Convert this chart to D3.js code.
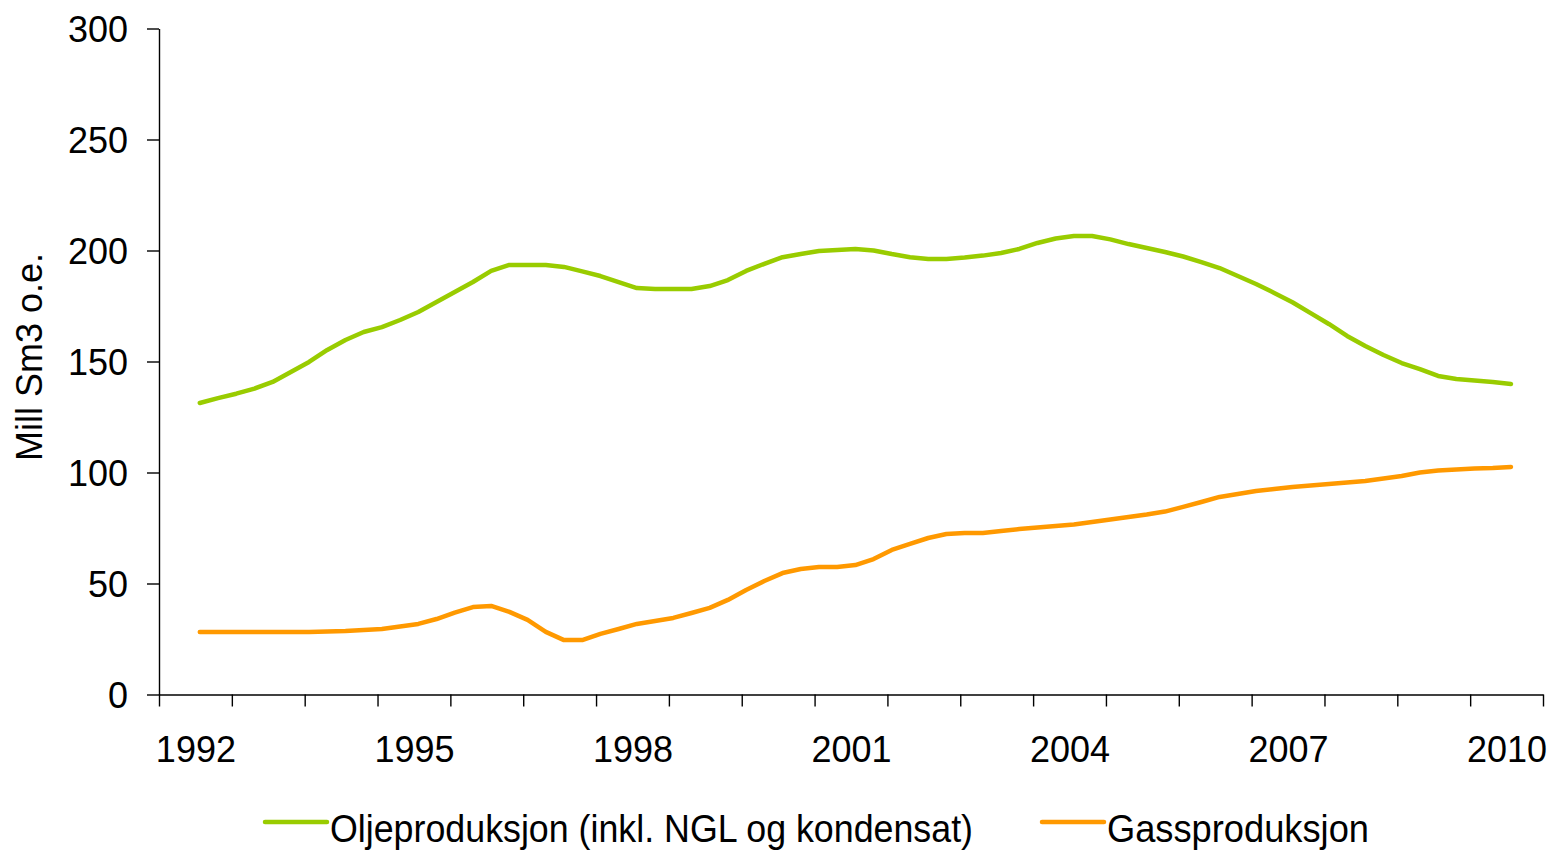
<!DOCTYPE html>
<html>
<head>
<meta charset="utf-8">
<script src="https://cdn.jsdelivr.net/npm/d3@7"></script>
<style>
  body { margin: 0; background: #fff; }
  svg text { font-family: Arial, "Liberation Sans", sans-serif; fill: #000; }
</style>
</head>
<body>
<div id="chart"></div>
<script>
// quarterly values, Mill Sm3 o.e.
const firstPeriod = 1992.56;
const step = 0.25;

const oil = [
    131.3, 133.5, 135.5, 137.8, 140.8, 145.3, 149.8, 155.2, 159.7, 163.3,
    165.5, 168.7, 172.3, 176.8, 181.3, 185.8, 190.8, 193.5, 193.5, 193.5,
    192.6, 190.6, 188.5, 185.8, 183.1, 182.7, 182.7, 182.7, 184.0, 186.7,
    190.8, 194.0, 197.0, 198.4, 199.8, 200.2, 200.7, 200.0, 198.4, 197.0,
    196.2, 196.2, 196.8, 197.7, 198.9, 200.7, 203.4, 205.4, 206.5, 206.5,
    205.0, 202.9, 201.1, 199.3, 197.3, 194.8, 192.1, 188.5, 184.9, 180.9,
    176.7, 171.8, 166.9, 161.5, 157.0, 152.9, 149.3, 146.6, 143.5, 142.1,
    141.4, 140.8, 139.9
];

const gas = [
    28.2, 28.2, 28.2, 28.2, 28.2, 28.2, 28.2, 28.4, 28.6, 29.1,
    29.5, 30.6, 31.8, 34.0, 36.9, 39.4, 39.9, 37.2, 33.6, 28.2,
    24.5, 24.5, 27.3, 29.5, 31.8, 33.1, 34.5, 36.7, 39.0, 42.6,
    47.1, 51.1, 54.7, 56.5, 57.4, 57.4, 58.3, 61.0, 65.1, 67.8,
    70.5, 72.3, 72.7, 72.7, 73.6, 74.5, 75.2, 75.9, 76.6, 77.7,
    78.8, 80.0, 81.1, 82.4, 84.5, 86.7, 89.0, 90.3, 91.7, 92.6,
    93.5, 94.1, 94.8, 95.5, 96.2, 97.3, 98.4, 100.0, 100.9, 101.4,
    101.8, 102.0, 102.5
];

const years = d3.range(1992, 2012);
const yearLabels = [1992, 1995, 1998, 2001, 2004, 2007, 2010];
const yTicks = [0, 50, 100, 150, 200, 250, 300];

const seriesNames = ['Oljeproduksjon (inkl. NGL og kondensat)', 'Gassproduksjon'];
const seriesColors = ['#99cc00', '#ff9900'];

const dims = {
    width: 1555,
    height: 850,
    left: 159,
    right: 1543,
    top: 28.5,
    bottom: 694.5,
};

const svg = d3
    .select('#chart')
    .append('svg')
    .attr('width', dims.width)
    .attr('height', dims.height);

const xScale = d3.scaleLinear().domain([1992, 2011]).range([dims.left, dims.right]);
const yScale = d3.scaleLinear().domain([0, 300]).range([dims.bottom, dims.top]);

/* Axes */
const yAxis = d3
    .axisLeft(yScale)
    .tickValues(yTicks)
    .tickSize(12)
    .tickSizeOuter(0)
    .tickPadding(19);

const gY = svg.append('g').attr('transform', `translate(${dims.left},0)`).call(yAxis);
gY.selectAll('text').style('font-size', '36px').attr('dy', '0.36em');

const xAxis = d3
    .axisBottom(xScale)
    .tickValues(years)
    .tickSize(12)
    .tickSizeOuter(0)
    .tickFormat('');

svg.append('g').attr('transform', `translate(0,${dims.bottom})`).call(xAxis);

// year labels sit between the tick marks
const xLabelAxis = d3
    .axisBottom(xScale)
    .tickValues(yearLabels.map(d => d + 0.5))
    .tickSize(0)
    .tickPadding(42)
    .tickFormat(d => Math.floor(d));

const gXL = svg.append('g').attr('transform', `translate(0,${dims.bottom})`).call(xLabelAxis);
gXL.select('.domain').remove();
gXL.selectAll('text').style('font-size', '36px');

svg.selectAll('.domain, .tick line').attr('stroke', '#000').attr('stroke-width', 1.4);

/* Y axis title */
svg.append('text')
    .attr('transform', 'translate(42, 357) rotate(-90)')
    .attr('text-anchor', 'middle')
    .style('font-size', '36px')
    .text('Mill Sm3 o.e.');

/* Lines */
const lineGen = d3
    .line()
    .x((d, i) => xScale(firstPeriod + i * step))
    .y(d => yScale(d));

[oil, gas].forEach((values, k) => {
    svg.append('path')
        .datum(values)
        .attr('d', lineGen)
        .attr('fill', 'none')
        .attr('stroke', seriesColors[k])
        .attr('stroke-width', 4.5)
        .attr('stroke-linejoin', 'round')
        .attr('stroke-linecap', 'round');
});

/* Legend */
const legendItems = [
    { x: 263, textWidth: 643 },
    { x: 1040, textWidth: 262 },
];

const legend = svg.append('g').attr('transform', 'translate(0, 822)');

legendItems.forEach((item, k) => {
    legend.append('line')
        .attr('x1', item.x + 2)
        .attr('x2', item.x + 64)
        .attr('y1', 0)
        .attr('y2', 0)
        .attr('stroke', seriesColors[k])
        .attr('stroke-width', 4.5)
        .attr('stroke-linecap', 'round');

    legend.append('text')
        .attr('x', item.x + 67)
        .attr('y', 20)
        .style('font-size', '38px')
        .attr('textLength', item.textWidth)
        .attr('lengthAdjust', 'spacingAndGlyphs')
        .text(seriesNames[k]);
});
</script>
</body>
</html>
